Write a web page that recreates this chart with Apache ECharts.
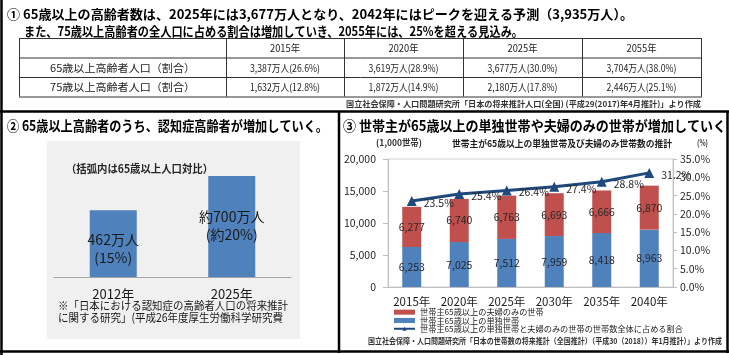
<!DOCTYPE html>
<html><head><meta charset="utf-8">
<script src="https://cdn.jsdelivr.net/npm/echarts@6/dist/echarts.min.js"></script>
<style>html,body{margin:0;padding:0;background:#fff}#c{width:729px;height:355px}</style>
</head><body><div id="c"></div>
<script>
const FONT = "'Noto Sans CJK JP', 'Noto Sans', sans-serif";

// ---- ① table data ----
const tableYears = ['2015年', '2020年', '2025年', '2055年'];
const tableRowLabels = ['65歳以上高齢者人口（割合）', '75歳以上高齢者人口（割合）'];
const pop65 = [3387, 3619, 3677, 3704];
const share65 = [26.6, 28.9, 30.0, 38.0];
const pop75 = [1632, 1872, 2180, 2446];
const share75 = [12.8, 14.9, 17.8, 25.1];

// ---- ② dementia chart data ----
const dementiaYears = ['2012年', '2025年'];
const dementiaValues = [462, 700];
const dementiaLabelText = [['462万人', '(15%)'], ['約700万人', '(約20%)']];

// ---- ③ household chart data ----
const householdYears = ['2015年', '2020年', '2025年', '2030年', '2035年', '2040年'];
const singleHouseholds = [6253, 7025, 7512, 7959, 8418, 8963];
const coupleHouseholds = [6277, 6740, 6763, 6693, 6666, 6870];
const householdShare = [23.5, 25.4, 26.4, 27.4, 28.8, 31.2];
const nameCouple = '世帯主65歳以上の夫婦のみの世帯';
const nameSingle = '世帯主65歳以上の単独世帯';
const nameShare = '世帯主65歳以上の単独世帯と夫婦のみの世帯の世帯数全体に占める割合';

const ctx = document.createElement('canvas').getContext('2d');
function fitText(text, x, y, width, size, weight, color, align) {
  const font = (weight || 'normal') + ' ' + size + 'px ' + FONT;
  ctx.font = font;
  const w = ctx.measureText(text).width || 1;
  return { type: 'text', x: x, y: y, scaleX: width / w, z: 100,
    style: { text: text, font: font, fill: color || '#000', textAlign: align || 'left', textVerticalAlign: 'middle' } };
}
function line(x1, y1, x2, y2, w, c) {
  return { type: 'line', z: 90, shape: { x1, y1, x2, y2 }, style: { stroke: c || '#000', lineWidth: w || 1 } };
}
const fmt = n => n.toLocaleString('en-US');

const g = [];
// gray box behind chart ②
g.push({ type: 'rect', z: -5, shape: { x: 47, y: 141, width: 253, height: 198 }, style: { fill: '#f0f0f0' } });
// panel borders
g.push(line(1.5, 0, 1.5, 355, 2.5));
g.push(line(0, 111.5, 729, 111.5, 2.5));
g.push(line(339, 111, 339, 353, 2.5));
g.push(line(0, 351.5, 729, 351.5, 2.5));
g.push(line(727.5, 111, 727.5, 353, 2.5));

// ① titles
g.push(fitText('① 65歳以上の高齢者数は、2025年には3,677万人となり、2042年にはピークを迎える予測（3,935万人）。', 7, 14, 626, 13, 'bold'));
g.push(fitText('また、75歳以上高齢者の全人口に占める割合は増加していき、2055年には、25%を超える見込み。', 24, 31.5, 499, 13, 'bold'));

// ① table
const colX = [19, 226, 344, 463, 582, 701];
const rowY = [38, 57.5, 77, 96.5];
colX.forEach(x => g.push(line(x + 0.5, rowY[0], x + 0.5, rowY[3], 1, '#333')));
rowY.forEach(y => g.push(line(colX[0], y + 0.5, colX[5] + 1, y + 0.5, 1, '#333')));
const cy = i => (rowY[i] + rowY[i + 1]) / 2 + 0.5;
const cx = j => (colX[j] + colX[j + 1]) / 2;
tableYears.forEach((t, j) => g.push(fitText(t, cx(j + 1), cy(0), 30, 10, 'normal', '#222', 'center')));
tableRowLabels.forEach((t, i) => g.push(fitText(t, cx(0), cy(i + 1), 145, 10.5, 'normal', '#222', 'center')));
pop65.forEach((v, j) => g.push(fitText(fmt(v) + '万人(' + share65[j].toFixed(1) + '%)', cx(j + 1), cy(1), 70, 10, 'normal', '#222', 'center')));
pop75.forEach((v, j) => g.push(fitText(fmt(v) + '万人(' + share75[j].toFixed(1) + '%)', cx(j + 1), cy(2), 70, 10, 'normal', '#222', 'center')));
g.push(fitText('国立社会保障・人口問題研究所「日本の将来推計人口(全国) (平成29(2017)年4月推計)」より作成', 346, 104, 355, 8, 'bold', '#333'));

// ② texts
g.push(fitText('② 65歳以上高齢者のうち、認知症高齢者が増加していく。', 7, 125.5, 321, 14, 'bold'));
g.push(fitText('（括弧内は65歳以上人口対比）', 66, 169, 147, 11, 'bold', '#262626'));
g.push(fitText('※「日本における認知症の高齢者人口の将来推計', 58, 306, 230, 11.5, 'normal', '#1a1a1a'));
g.push(fitText('に関する研究」(平成26年度厚生労働科学研究費', 58, 317.5, 225, 11.5, 'normal', '#1a1a1a'));

// ③ texts
g.push(fitText('③ 世帯主が65歳以上の単独世帯や夫婦のみの世帯が増加していく', 343, 125.5, 383, 14, 'bold'));
g.push(fitText('(1,000世帯)', 376, 143, 46, 9, 'bold', '#333'));
g.push(fitText('世帯主が65歳以上の単独世帯及び夫婦のみ世帯数の推計', 452, 143, 220, 9.5, 'bold', '#222'));
g.push(fitText('(%)', 697, 143, 11, 8.5, 'bold', '#333'));
g.push(fitText('国立社会保障・人口問題研究所「日本の世帯数の将来推計（全国推計）（平成30（2018））年1月推計）」より作成', 368, 341, 354, 8, 'bold', '#333'));

const option = {
  animation: false,
  textStyle: { fontFamily: FONT },
  grid: [
    { left: 54, top: 176, width: 237, height: 101 },
    { left: 388, top: 159, width: 285, height: 128, show: true, borderColor: '#d0d0d0', borderWidth: 1 }
  ],
  xAxis: [
    { gridIndex: 0, type: 'category', data: dementiaYears,
      axisLine: { lineStyle: { color: '#a6a6a6' } },
      axisTick: { length: 5, lineStyle: { color: '#a6a6a6' } },
      axisLabel: { color: '#1a1a1a', fontSize: 13, margin: 11 } },
    { gridIndex: 1, type: 'category', data: householdYears,
      axisLine: { lineStyle: { color: '#bfbfbf' } }, axisTick: { show: false },
      axisLabel: { color: '#1a1a1a', fontSize: 11.5, margin: 9, interval: 0 } }
  ],
  yAxis: [
    { gridIndex: 0, type: 'value', min: 0, max: 700, show: false },
    { gridIndex: 1, type: 'value', min: 0, max: 20000, interval: 5000, splitLine: { show: false },
      axisLine: { show: true, lineStyle: { color: '#bfbfbf' } },
      axisTick: { show: true, length: 5, lineStyle: { color: '#bfbfbf' } },
      axisLabel: { color: '#262626', fontSize: 10.5, margin: 12, formatter: v => fmt(v) } },
    { gridIndex: 1, type: 'value', position: 'right', min: 0, max: 35, interval: 5, splitLine: { show: false },
      axisLine: { show: true, lineStyle: { color: '#bfbfbf' } },
      axisTick: { show: true, length: 4, lineStyle: { color: '#bfbfbf' } },
      axisLabel: { color: '#262626', fontSize: 10.5, margin: 7, formatter: v => v.toFixed(1) + '%' } }
  ],
  legend: {
    orient: 'vertical', left: 393, top: 308, itemWidth: 21, itemHeight: 5, itemGap: 0, padding: 0,
    selectedMode: false,
    textStyle: { fontSize: 8.2, color: '#1a1a1a', lineHeight: 8.3 },
    data: [{ name: nameCouple, icon: 'rect' }, { name: nameSingle, icon: 'rect' }, { name: nameShare }]
  },
  series: [
    { type: 'bar', xAxisIndex: 0, yAxisIndex: 0, barWidth: 47,
      data: dementiaValues.map((v, i) => ({ value: v, label: { offset: [0, i === 0 ? 5 : -1] } })),
      itemStyle: { color: '#4f81bd' },
      label: { show: true, position: 'inside', color: '#1a1a1a', fontSize: 14, lineHeight: 18,
        formatter: p => dementiaLabelText[p.dataIndex].join('\n') } },
    { type: 'bar', name: nameSingle, xAxisIndex: 1, yAxisIndex: 1, stack: 'hh', barWidth: 19,
      data: singleHouseholds, itemStyle: { color: '#4f81bd' },
      label: { show: true, position: 'inside', color: '#262626', fontSize: 10.5, formatter: p => fmt(p.value) } },
    { type: 'bar', name: nameCouple, xAxisIndex: 1, yAxisIndex: 1, stack: 'hh', barWidth: 19,
      data: coupleHouseholds, itemStyle: { color: '#c0504d' },
      label: { show: true, position: 'inside', color: '#262626', fontSize: 10.5, formatter: p => fmt(p.value) } },
    { type: 'line', name: nameShare, xAxisIndex: 1, yAxisIndex: 2, z: 5,
      data: householdShare, symbol: 'triangle', symbolSize: 10,
      lineStyle: { color: '#1f497d', width: 3 }, itemStyle: { color: '#1f497d' },
      label: { show: true, position: 'right', distance: 7, offset: [0, 2], color: '#262626', fontSize: 10.5,
        formatter: p => p.value.toFixed(1) + '%' } }
  ],
  graphic: { elements: g }
};
const chart = echarts.init(document.getElementById('c'), null, { renderer: 'canvas' });
chart.setOption(option);
</script>
</body></html>
